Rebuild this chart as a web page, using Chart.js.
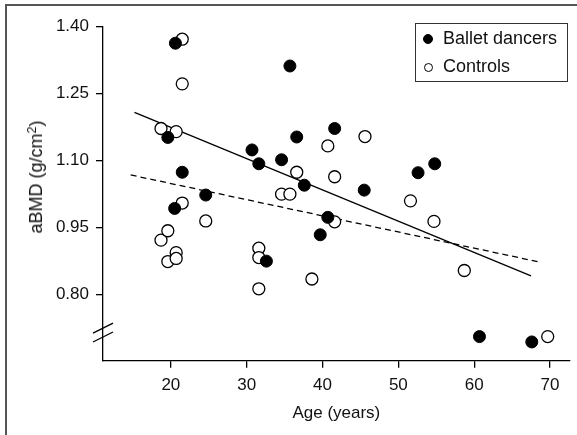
<!DOCTYPE html>
<html>
<head>
<meta charset="utf-8">
<script src="https://cdn.jsdelivr.net/npm/chart.js@4.4.1/dist/chart.umd.min.js"></script>
<style>
  body { margin: 0; background: #fff; }
  #wrap { position: relative; width: 577px; height: 435px; overflow: hidden; }
  #bmd-chart { position: absolute; left: 0; top: 0; }
  #legend {
    position: absolute; left: 415px; top: 23px; width: 151px; height: 57px;
    border: 1.3px solid #333; font: 18px "Liberation Sans", Arial, sans-serif; color: #111;
  }
  .legend-row { position: absolute; left: 0; height: 20px; line-height: 20px; white-space: nowrap; }
  .legend-dot {
    position: absolute; left: 7px; top: 5px; width: 10px; height: 10px;
    border-radius: 50%; box-sizing: border-box; border: 1.3px solid #000;
  }
  .legend-text { position: absolute; left: 27px; top: -1px; }
  #y-title {
    position: absolute; left: 35.5px; top: 176.5px; white-space: nowrap;
    font: 18px/18px "Liberation Sans", Arial, sans-serif; color: #111;
    transform: translate(-50%, -50%) rotate(-90deg);
  }
  #y-title sup { font-size: 70%; line-height: 0; vertical-align: 0.5em; }
</style>
</head>
<body>
<div id="wrap">
  <canvas id="bmd-chart" width="577" height="435"></canvas>
  <div id="legend"></div>
  <div id="y-title">aBMD (g/cm<sup>2</sup>)</div>
</div>
<script>
const bmdCanvas = document.getElementById("bmd-chart");
const legendBox = document.getElementById("legend");

// ================== data ======================
const seriesLabels = ["Ballet dancers", "Controls"];

const balletAge = [20.6, 35.7, 19.6, 21.5, 20.5, 24.6, 30.7, 31.6, 34.6, 36.6,
  41.6, 37.6, 40.7, 39.7, 32.6, 45.5, 52.6, 54.8, 60.7, 67.6];
const balletBmd = [1.363, 1.312, 1.152, 1.074, 0.993, 1.023, 1.124, 1.093, 1.102, 1.153,
  1.172, 1.045, 0.973, 0.934, 0.875, 1.034, 1.073, 1.093, 0.706, 0.694];

const controlAge = [21.5, 21.5, 18.7, 20.7, 21.5, 18.7, 19.6, 19.6, 20.7, 20.7,
  24.6, 31.6, 31.6, 31.6, 38.6, 41.6, 34.6, 35.7, 36.6, 40.7,
  41.6, 45.6, 51.6, 54.7, 58.7, 69.7];
const controlBmd = [1.372, 1.272, 1.172, 1.165, 1.005, 0.922, 0.943, 0.874, 0.894, 0.881,
  0.965, 0.904, 0.883, 0.813, 0.835, 0.963, 1.025, 1.025, 1.074, 1.133,
  1.064, 1.154, 1.010, 0.964, 0.854, 0.706];

// fitted lines, end points
const balletFitAge = [15.2, 67.5];
const balletFitBmd = [1.208, 0.842];
const controlFitAge = [14.7, 68.6];
const controlFitBmd = [1.068, 0.873];

const xTicks = [20, 30, 40, 50, 60, 70];
const yTicks = [0.80, 0.95, 1.10, 1.25, 1.40];

const toPoints = (xs, ys) => xs.map((x, i) => ({ x: x, y: ys[i] }));

// ================== legend (html) ======================
legendBox.innerHTML = seriesLabels.map((label, i) => `<div class="legend-row" style="top:${5 + i * 28}px">
  <span class="legend-dot" style="background:${i === 0 ? "#000" : "#fff"};${i === 1 ? "width:9px;height:9px;top:6px;left:8px" : ""}"></span>
  <span class="legend-text">${label}</span>
</div>`).join("");

// ================== decorations ======================
const framePlugin = {
  id: "frame",
  afterDraw(chart) {
    const ctx = chart.ctx;
    const y = chart.scales.y;
    const x0 = chart.chartArea.left;
    ctx.save();
    // cropped figure frame
    ctx.strokeStyle = "#555";
    ctx.lineWidth = 2;
    ctx.beginPath();
    ctx.moveTo(6, 440);
    ctx.lineTo(6, 5);
    ctx.lineTo(590, 5);
    ctx.stroke();
    // axis break marks
    ctx.strokeStyle = "#000";
    ctx.lineWidth = 1.3;
    [0.725, 0.705].forEach((v) => {
      const py = y.getPixelForValue(v);
      ctx.beginPath();
      ctx.moveTo(x0 - 10, py + 5);
      ctx.lineTo(x0 + 10, py - 5);
      ctx.stroke();
    });
    ctx.restore();
  },
};

const tickFont = { family: "'Liberation Sans', Arial, sans-serif", size: 17 };

let bmdChart = new Chart(bmdCanvas, {
  type: "scatter",
  data: {
    datasets: [
      {
        label: seriesLabels[0],
        data: toPoints(balletAge, balletBmd),
        pointRadius: 6,
        pointBackgroundColor: "#000",
        pointBorderColor: "#000",
        pointBorderWidth: 1,
      },
      {
        label: seriesLabels[1],
        data: toPoints(controlAge, controlBmd),
        pointRadius: 6,
        pointBackgroundColor: "#fff",
        pointBorderColor: "#000",
        pointBorderWidth: 1.3,
      },
      {
        type: "line",
        data: toPoints(balletFitAge, balletFitBmd),
        borderColor: "#000",
        borderWidth: 1.3,
        pointRadius: 0,
        fill: false,
      },
      {
        type: "line",
        data: toPoints(controlFitAge, controlFitBmd),
        borderColor: "#000",
        borderWidth: 1.3,
        borderDash: [6, 4],
        pointRadius: 0,
        fill: false,
      },
    ],
  },
  options: {
    responsive: false,
    animation: false,
    layout: { padding: { top: 26.7, right: 5.3, left: 0, bottom: 0 } },
    plugins: {
      legend: { display: false },
      tooltip: { enabled: false },
    },
    scales: {
      x: {
        type: "linear",
        min: 11.05,
        max: 72.6,
        afterBuildTicks: (scale) => {
          scale.ticks = xTicks.map((v) => ({ value: v }));
        },
        afterFit: (scale) => {
          scale.height = 74.3;
        },
        ticks: { font: tickFont, color: "#111", padding: 7, callback: (v) => String(v) },
        grid: { drawOnChartArea: false, tickLength: 7, color: "#000", lineWidth: 1.3 },
        border: { color: "#000", width: 1.3 },
        title: {
          display: true,
          text: "Age (years)",
          font: tickFont,
          color: "#111",
          padding: { top: 0, bottom: 11.8 },
        },
      },
      y: {
        type: "linear",
        min: 0.652,
        max: 1.4,
        afterBuildTicks: (scale) => {
          scale.ticks = yTicks.map((v) => ({ value: v }));
        },
        afterFit: (scale) => {
          scale.width = 103;
        },
        ticks: { font: tickFont, color: "#111", padding: 7, callback: (v) => v.toFixed(2) },
        grid: { drawOnChartArea: false, tickLength: 7, color: "#000", lineWidth: 1.3 },
        border: { color: "#000", width: 1.3 },
        title: { display: false },
      },
    },
  },
  plugins: [framePlugin],
});
</script>
</body>
</html>
